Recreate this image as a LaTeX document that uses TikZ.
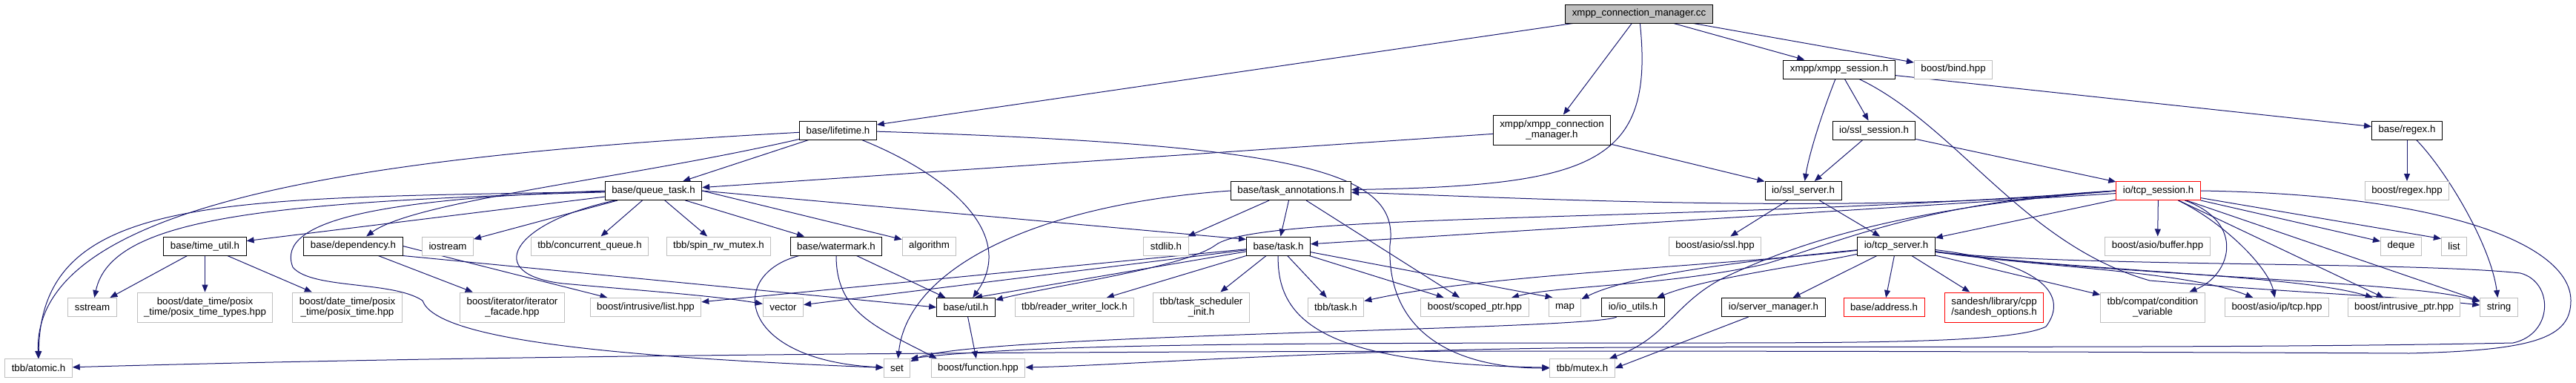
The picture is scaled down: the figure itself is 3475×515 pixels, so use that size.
\documentclass[tikz,border=0pt]{standalone}
\usepackage{fontspec}
\setmainfont{Liberation Sans}
\usepackage{tikz}
\usetikzlibrary{arrows.meta,backgrounds}
\definecolor{midnight}{RGB}{25,25,112}
\definecolor{extgray}{RGB}{191,191,191}
\definecolor{rootgray}{RGB}{191,191,191}
\definecolor{cutred}{RGB}{255,0,0}
\newcommand{\filefont}{\fontsize{13.3}{14.5}\selectfont}
\tikzset{
  file/.style={draw=black,line width=1pt,fill=white,rectangle,minimum height=25pt,
    inner xsep=9pt,inner ysep=2pt,font=\filefont,align=center},
  extfile/.style={file,draw=extgray},
  cutfile/.style={file,draw=cutred},
  rootfile/.style={file,fill=rootgray},
  twoline/.style={minimum height=40pt},
  inc/.style={line width=1pt,midnight,-{Triangle[length=10pt,width=8pt]}}
}

\begin{document}
\begin{tikzpicture}[x=1pt,y=1pt]
  \useasboundingbox (0,0) rectangle (3475,-515);
  % ranks 0 to 3
  \node[rootfile] (cc) at (2211,-18.5) {xmpp\_connection\_manager.cc};
  \node[file] (xsess) at (2481,-93.5) {xmpp/xmpp\_session.h};
  \node[extfile] (bind) at (2635,-93.5) {boost/bind.hpp};
  \node[file] (lifetime) at (1130.5,-175.5) {base/lifetime.h};
  \node[file,twoline] (xcm) at (2093.5,-175) {xmpp/xmpp\_connection\\\_manager.h};
  \node[file] (sslsess) at (2528,-175.5) {io/ssl\_session.h};
  \node[file] (regex) at (3247,-175.5) {base/regex.h};
  \node[file] (queue) at (881.5,-257) {base/queue\_task.h};
  \node[file] (annot) at (1741.5,-257) {base/task\_annotations.h};
  \node[file] (sslsrv) at (2432.5,-257) {io/ssl\_server.h};
  \node[cutfile] (tcpsess) at (2911.5,-257) {io/tcp\_session.h};
  \node[extfile] (regexhpp) at (3247,-257) {boost/regex.hpp};
  % rank 4
  \node[file] (timeutil) at (276.5,-331.5) {base/time\_util.h};
  \node[file] (depend) at (476.5,-331.5) {base/dependency.h};
  \node[extfile] (iostream) at (604,-331.5) {iostream};
  \node[extfile] (concq) at (795.5,-331.5) {tbb/concurrent\_queue.h};
  \node[extfile] (spinrw) at (969.5,-331.5) {tbb/spin\_rw\_mutex.h};
  \node[file] (wmark) at (1128,-331.5) {base/watermark.h};
  \node[extfile] (algo) at (1253.5,-331.5) {algorithm};
  \node[extfile] (stdlib) at (1573,-331.5) {stdlib.h};
  \node[file] (task) at (1724.5,-331.5) {base/task.h};
  \node[extfile] (sslhpp) at (2313.5,-331.5) {boost/asio/ssl.hpp};
  \node[file] (tcpsrv) at (2558,-331.5) {io/tcp\_server.h};
  \node[extfile] (buffer) at (2910.5,-331.5) {boost/asio/buffer.hpp};
  \node[extfile] (deque) at (3239,-331.5) {deque};
  \node[extfile] (lst) at (3310.5,-331.5) {list};
  % rank 5
  \node[extfile] (sstream) at (124.5,-414) {sstream};
  \node[extfile,twoline] (ptypes) at (276.5,-414) {boost/date\_time/posix\\\_time/posix\_time\_types.hpp};
  \node[extfile,twoline] (ptime) at (468.5,-414) {boost/date\_time/posix\\\_time/posix\_time.hpp};
  \node[extfile,twoline] (facade) at (691,-414) {boost/iterator/iterator\\\_facade.hpp};
  \node[extfile] (ilist) at (871,-414) {boost/intrusive/list.hpp};
  \node[extfile] (vec) at (1056.5,-414) {vector};
  \node[file] (util) at (1303,-414) {base/util.h};
  \node[extfile] (rwlock) at (1449.5,-414) {tbb/reader\_writer\_lock.h};
  \node[extfile,twoline] (tsinit) at (1620.5,-414) {tbb/task\_scheduler\\\_init.h};
  \node[extfile] (tbbtask) at (1802,-414) {tbb/task.h};
  \node[extfile] (scoped) at (1989.5,-414) {boost/scoped\_ptr.hpp};
  \node[extfile] (mapn) at (2111,-414) {map};
  \node[file] (ioutils) at (2203,-414) {io/io\_utils.h};
  \node[file] (srvmgr) at (2392.5,-414) {io/server\_manager.h};
  \node[cutfile] (address) at (2541.5,-414) {base/address.h};
  \node[cutfile,twoline] (sandesh) at (2690,-414) {sandesh/library/cpp\\/sandesh\_options.h};
  \node[extfile,twoline] (condvar) at (2904,-414) {tbb/compat/condition\\\_variable};
  \node[extfile] (iptcp) at (3071.5,-414) {boost/asio/ip/tcp.hpp};
  \node[extfile] (iptr) at (3243,-414) {boost/intrusive\_ptr.hpp};
  \node[extfile] (str) at (3371,-414) {string};
  % rank 6
  \node[extfile] (atomic) at (52,-496) {tbb/atomic.h};
  \node[extfile] (setn) at (1210,-496) {set};
  \node[extfile] (func) at (1319.5,-496) {boost/function.hpp};
  \node[extfile] (mutex) at (2134.5,-496) {tbb/mutex.h};

  \begin{scope}[on background layer]
  % root
  \draw[inc] (cc) -- (lifetime);
  \draw[inc] (cc) -- (xcm);
  \draw[inc] (cc) .. controls (2232,-220) and (2150,-250) .. (annot);
  \draw[inc] (cc) -- (xsess);
  \draw[inc] (cc) -- (bind);
  % lifetime
  \draw[inc] (lifetime) .. controls (500,-210) and (45,-270) .. (atomic);
  \draw[inc] (lifetime) -- (queue);
  \draw[inc] (lifetime) .. controls (850,-240) and (560,-270) .. (depend);
  \draw[inc] (lifetime) .. controls (1290,-240) and (1370,-320) .. (util);
  \draw[inc] (lifetime) .. controls (1750,-195) and (1890,-230) .. (1875,-330)
    .. controls (1870,-460) and (1980,-496) .. (mutex);
  % xmpp headers
  \draw[inc] (xcm) -- (queue);
  \draw[inc] (xcm) -- (sslsrv);
  \draw[inc] (xsess) .. controls (2455,-160) and (2440,-210) .. (sslsrv);
  \draw[inc] (xsess) -- (sslsess);
  \draw[inc] (xsess) -- (regex);
  \draw[inc] (xsess) .. controls (2640,-170) and (2730,-330) .. (2900,-378)
    .. controls (3100,-395) and (3250,-400) .. (str);
  \draw[inc] (sslsess) -- (sslsrv);
  \draw[inc] (sslsess) -- (tcpsess);
  \draw[inc] (regex) -- (regexhpp);
  \draw[inc] (regex) .. controls (3300,-230) and (3360,-330) .. (str);
  % queue task
  \draw[inc] (queue) .. controls (300,-268) and (55,-260) .. (atomic);
  \draw[inc] (queue) .. controls (350,-272) and (150,-295) .. (sstream);
  \draw[inc] (queue) -- (timeutil);
  \draw[inc] (queue) -- (iostream);
  \draw[inc] (queue) -- (concq);
  \draw[inc] (queue) -- (spinrw);
  \draw[inc] (queue) -- (wmark);
  \draw[inc] (queue.east) -- (algo);
  \draw[inc] (queue.east) -- ([yshift=-4pt]task.north west);
  \draw[inc] ([xshift=14pt]queue.south west) .. controls (690,-300) and (650,-370) .. (760,-382)
    .. controls (870,-392) and (960,-398) .. (vec);
  \draw[inc] (queue.west) .. controls (520,-268) and (370,-295) .. (395,-360)
    .. controls (420,-390) and (530,-378) .. (570,-405)
    .. controls (588,-455) and (800,-480) .. (setn);
  % annotations, task
  \draw[inc] (annot) -- (stdlib);
  \draw[inc] (annot) -- (task);
  \draw[inc] (annot.west) .. controls (1400,-275) and (1225,-360) .. (setn);
  \draw[inc] (annot) -- (scoped);
  \draw[inc] (task) -- ([xshift=12pt]util.north);
  \draw[inc] (task) -- (ilist);
  \draw[inc] (task) -- (vec);
  \draw[inc] (task) -- (rwlock);
  \draw[inc] (task) -- (tsinit);
  \draw[inc] (task) -- (tbbtask);
  \draw[inc] (task) -- (scoped);
  \draw[inc] (task) -- ([xshift=6pt]mapn.north west);
  \draw[inc] (task) .. controls (1722,-440) and (1800,-490) .. (mutex);
  % watermark, time, dependency, util
  \draw[inc] (wmark) .. controls (980,-370) and (995,-485) .. (setn);
  \draw[inc] (wmark) .. controls (1128,-420) and (1180,-440) .. ([xshift=8pt]func.north west);
  \draw[inc] (wmark) -- (util);
  \draw[inc] (timeutil) -- (sstream);
  \draw[inc] (timeutil) -- (ptypes);
  \draw[inc] (timeutil) -- (ptime);
  \draw[inc] (depend) -- (facade);
  \draw[inc] (depend.east) -- (ilist);
  \draw[inc] (depend.south east) -- (util.west);
  \draw[inc] (util) -- (func);
  % ssl server
  \draw[inc] (sslsrv) -- (sslhpp);
  \draw[inc] (sslsrv) -- (tcpsrv);
  % tcp session
  \draw[inc] (tcpsess) -- (tcpsrv);
  \draw[inc] (tcpsess.west) .. controls (2500,-292) and (2000,-264) .. (annot);
  \draw[inc] (tcpsess) -- (task);
  \draw[inc] (tcpsess.west) .. controls (2300,-300) and (1700,-285) .. (1640,-330)
    .. controls (1600,-360) and (1420,-385) .. (util);
  \draw[inc] (tcpsess.west) .. controls (2600,-270) and (2470,-330) .. (2380,-356)
    .. controls (2250,-385) and (2100,-385) .. (scoped);
  \draw[inc] (tcpsess.west) .. controls (2560,-280) and (2420,-330) .. (2330,-372)
    .. controls (2260,-405) and (2250,-455) .. (mutex);
  \draw[inc] (tcpsess) -- (buffer);
  \draw[inc] (tcpsess) -- (deque);
  \draw[inc] (tcpsess) -- ([yshift=-3pt]lst.north west);
  \draw[inc] (tcpsess) -- (str);
  \draw[inc] (tcpsess) -- (iptr);
  \draw[inc] (tcpsess) .. controls (3000,-300) and (3060,-360) .. (iptcp);
  \draw[inc] (tcpsess) .. controls (3030,-300) and (3010,-370) .. (condvar);
  \draw[inc] (tcpsess.east) .. controls (3300,-262) and (3468,-330) .. (3468,-405)
    .. controls (3468,-455) and (3420,-472) .. (3250,-476)
    .. controls (2000,-470) and (900,-472) .. (atomic);
  % tcp server
  \draw[inc] (tcpsrv) .. controls (2350,-352) and (2200,-370) .. (mapn);
  \draw[inc] (tcpsrv) .. controls (2300,-360) and (2000,-370) .. (tbbtask);
  \draw[inc] (tcpsrv) .. controls (2420,-360) and (2300,-375) .. (ioutils);
  \draw[inc] (tcpsrv) -- (srvmgr);
  \draw[inc] (tcpsrv) -- (address);
  \draw[inc] (tcpsrv) -- (sandesh);
  \draw[inc] (tcpsrv) -- (condvar);
  \draw[inc] (tcpsrv) .. controls (2750,-360) and (2950,-365) .. (iptcp);
  \draw[inc] (tcpsrv) .. controls (2800,-365) and (3100,-370) .. (iptr);
  \draw[inc] (tcpsrv) .. controls (2850,-372) and (3250,-378) .. (str);
  \draw[inc] ([yshift=-5pt]tcpsrv.east) .. controls (2760,-355) and (2790,-400) .. (2760,-440)
    .. controls (2720,-460) and (2550,-462) .. (2300,-462)
    .. controls (1800,-462) and (1400,-462) .. (setn.north east);
  \draw[inc] ([yshift=-8pt]tcpsrv.east) .. controls (2800,-360) and (3250,-352) .. (3400,-368)
    .. controls (3445,-380) and (3445,-450) .. (3390,-462)
    .. controls (3000,-470) and (2500,-466) .. (2200,-468)
    .. controls (1800,-470) and (1500,-493) .. (func);
  \draw[inc] (ioutils) .. controls (2150,-445) and (1300,-450) .. ([yshift=-4pt]setn.north east);
  \draw[inc] (srvmgr) -- (mutex.east);
  \end{scope}
\end{tikzpicture}
\end{document}
